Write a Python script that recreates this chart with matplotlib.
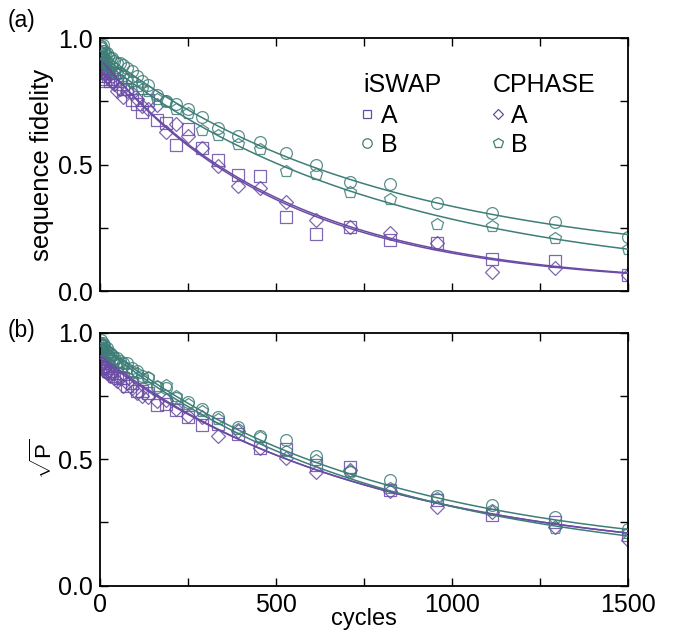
import numpy as np
import matplotlib
matplotlib.use("Agg")
import matplotlib.pyplot as plt
from matplotlib.lines import Line2D

plt.rcParams['font.family'] = ['Liberation Sans', 'DejaVu Sans']
plt.rcParams['mathtext.fontset'] = 'custom'
plt.rcParams['mathtext.rm'] = 'Liberation Sans'
plt.rcParams['mathtext.it'] = 'Liberation Sans'

# ---------------- data ----------------
cycles = [1, 3, 5, 8, 10, 13, 16, 20, 24, 29, 35, 42, 50, 58, 67, 78, 91, 105,
          119, 138, 162, 188, 217, 252, 290, 337, 392, 455, 528, 614, 711, 825,
          957, 1114, 1293, 1500]

# panel (a): sequence fidelity
fid_iswap_A = [0.90, 0.88, 0.86, 0.84, 0.83, 0.85, 0.87, 0.86, 0.85, 0.83, 0.84, 0.86,
               0.83, 0.82, 0.80, 0.80, 0.755, 0.74, 0.709, 0.755, 0.676, 0.666, 0.578,
               0.640, 0.564, 0.518, 0.459, 0.455, 0.295, 0.226, 0.255, 0.203, 0.192,
               0.126, 0.120, 0.064]
fid_cphase_A = [0.92, 0.90, 0.88, 0.89, 0.87, 0.88, 0.86, 0.85, 0.86, 0.84, 0.83, 0.82,
                0.79, 0.80, 0.768, 0.79, 0.782, 0.76, 0.73, 0.72, 0.735, 0.630, 0.659,
                0.613, 0.564, 0.495, 0.416, 0.409, 0.354, 0.281, 0.253, 0.229, 0.192,
                0.077, 0.091, 0.064]
fid_iswap_B = [0.97, 0.96, 0.97, 0.95, 0.972, 0.95, 0.94, 0.94, 0.93, 0.92, 0.92, 0.91,
               0.90, 0.90, 0.893, 0.88, 0.87, 0.85, 0.83, 0.814, 0.775, 0.752, 0.739,
               0.718, 0.689, 0.643, 0.613, 0.589, 0.547, 0.499, 0.433, 0.422, 0.350,
               0.308, 0.275, 0.213]
fid_cphase_B = [0.95, 0.94, 0.92, 0.93, 0.91, 0.92, 0.90, 0.91, 0.89, 0.88, 0.89, 0.87,
                0.86, 0.86, 0.85, 0.84, 0.83, 0.81, 0.80, 0.79, 0.76, 0.75, 0.720,
                0.703, 0.637, 0.617, 0.581, 0.562, 0.476, 0.463, 0.393, 0.364, 0.266,
                0.258, 0.209, 0.167]

# panel (b): sqrt(purity)
pur_iswap_A = [0.91, 0.89, 0.90, 0.88, 0.87, 0.88, 0.86, 0.87, 0.85, 0.85, 0.84, 0.83,
               0.84, 0.82, 0.82, 0.79, 0.80, 0.77, 0.771, 0.76, 0.714, 0.72, 0.694,
               0.668, 0.635, 0.64, 0.60, 0.543, 0.54, 0.477, 0.470, 0.38, 0.339,
               0.279, 0.253, 0.200]
pur_cphase_A = [0.90, 0.88, 0.87, 0.86, 0.88, 0.85, 0.86, 0.84, 0.85, 0.83, 0.84, 0.82,
                0.81, 0.82, 0.79, 0.80, 0.78, 0.76, 0.75, 0.745, 0.73, 0.734, 0.70,
                0.672, 0.668, 0.592, 0.61, 0.543, 0.503, 0.451, 0.457, 0.375, 0.310,
                0.29, 0.233, 0.181]
pur_iswap_B = [0.96, 0.97, 0.95, 0.96, 0.94, 0.95, 0.93, 0.94, 0.92, 0.92, 0.91, 0.90,
               0.90, 0.89, 0.88, 0.88, 0.86, 0.85, 0.83, 0.82, 0.787, 0.78, 0.741,
               0.727, 0.697, 0.666, 0.626, 0.592, 0.576, 0.512, 0.451, 0.418, 0.353,
               0.317, 0.273, 0.223]
pur_cphase_B = [0.95, 0.96, 0.94, 0.95, 0.93, 0.94, 0.92, 0.93, 0.91, 0.90, 0.91, 0.89,
                0.88, 0.88, 0.87, 0.86, 0.85, 0.84, 0.82, 0.826, 0.79, 0.793, 0.75,
                0.72, 0.69, 0.66, 0.618, 0.587, 0.534, 0.497, 0.455, 0.385, 0.345,
                0.299, 0.227, 0.207]

# fit parameters  F = A*exp(-m/tau) + B   (order: iSWAP A, CPHASE A, iSWAP B, CPHASE B)
fit_a_A = [0.90, 0.90, 0.85, 0.89]
fit_a_tau = [530, 515, 780, 800]
fit_a_B = [0.020, 0.022, 0.10, 0.03]
fit_b_A = [0.815, 0.81, 0.86, 0.884]
fit_b_tau = [760, 780, 770, 785]
fit_b_B = [0.095, 0.09, 0.10, 0.066]

series_names = ['iSWAP A', 'CPHASE A', 'iSWAP B', 'CPHASE B']

# ---------------- style ----------------
PURPLE = '#6A4CA5'
TEAL = '#3F7E78'
colors = [PURPLE, PURPLE, TEAL, TEAL]
markers = ['s', 'D', 'o', 'p']
msizes = [8, 7, 8.5, 9]
TICK_FS = 18

W, H = 683, 630
fig = plt.figure(figsize=(W / 100, H / 100), dpi=100)

def ax_rect(l, t, r, b):
    return [l / W, 1 - b / H, (r - l) / W, (b - t) / H]

ax_a = fig.add_axes(ax_rect(99.7, 38.0, 627.7, 291.3))
ax_b = fig.add_axes(ax_rect(99.7, 332.7, 627.7, 585.7))

m = np.linspace(0, 1500, 400)

def draw(ax, data, A, tau, B):
    for i in range(4):
        ax.plot(cycles, data[i], linestyle='none', marker=markers[i],
                markersize=msizes[i], markerfacecolor='none',
                markeredgecolor=colors[i], markeredgewidth=0.9, alpha=0.85, zorder=2)
    for i in range(4):
        ax.plot(m, A[i] * np.exp(-m / tau[i]) + B[i], color=colors[i], lw=1.1, zorder=3)
    ax.set_xlim(0, 1500)
    ax.set_ylim(0, 1.0)
    ax.set_xticks([0, 500, 1000, 1500])
    ax.set_xticks([250, 750, 1250], minor=True)
    ax.set_yticks([0, 0.5, 1.0])
    ax.set_yticks([0.25, 0.75], minor=True)
    ax.set_yticklabels(['0.0', '0.5', '1.0'])
    ax.tick_params(which='both', direction='in', top=True, right=True,
                   length=5.5, width=1.0, labelsize=TICK_FS, pad=5)
    for s in ax.spines.values():
        s.set_linewidth(1.3)

draw(ax_a, [fid_iswap_A, fid_cphase_A, fid_iswap_B, fid_cphase_B], fit_a_A, fit_a_tau, fit_a_B)
draw(ax_b, [pur_iswap_A, pur_cphase_A, pur_iswap_B, pur_cphase_B], fit_b_A, fit_b_tau, fit_b_B)

ax_a.tick_params(labelbottom=False)
ax_a.set_ylabel('sequence fidelity', fontsize=18.5, labelpad=3)
ax_b.set_ylabel(r'$\sqrt{\mathrm{P}}$', fontsize=16, labelpad=1)
ax_b.set_xlabel('cycles', fontsize=17, labelpad=-6)

# legend
ax_a.text(0.499, 0.787, 'iSWAP', transform=ax_a.transAxes, fontsize=18, ha='left', va='baseline')
ax_a.text(0.745, 0.787, 'CPHASE', transform=ax_a.transAxes, fontsize=18, ha='left', va='baseline')
handles = []
for i in [0, 2, 1, 3]:
    handles.append(Line2D([], [], linestyle='none', marker=markers[i], markersize=msizes[i] * 0.8,
                          markerfacecolor='none', markeredgecolor=colors[i], markeredgewidth=0.9))
labels = ['A', 'B', 'A', 'B']
leg = ax_a.legend(handles, labels, ncol=2, frameon=False, fontsize=18,
                  loc='upper left', bbox_to_anchor=(0.495, 0.74),
                  handlelength=0.5, handletextpad=0.3, columnspacing=3.75,
                  labelspacing=0.2, borderaxespad=0, borderpad=0)

fig.text(8 / W, 1 - 27 / H, '(a)', fontsize=16.5)
fig.text(8 / W, 1 - 337 / H, '(b)', fontsize=16.5)

fig.savefig('out.png', dpi=100)
